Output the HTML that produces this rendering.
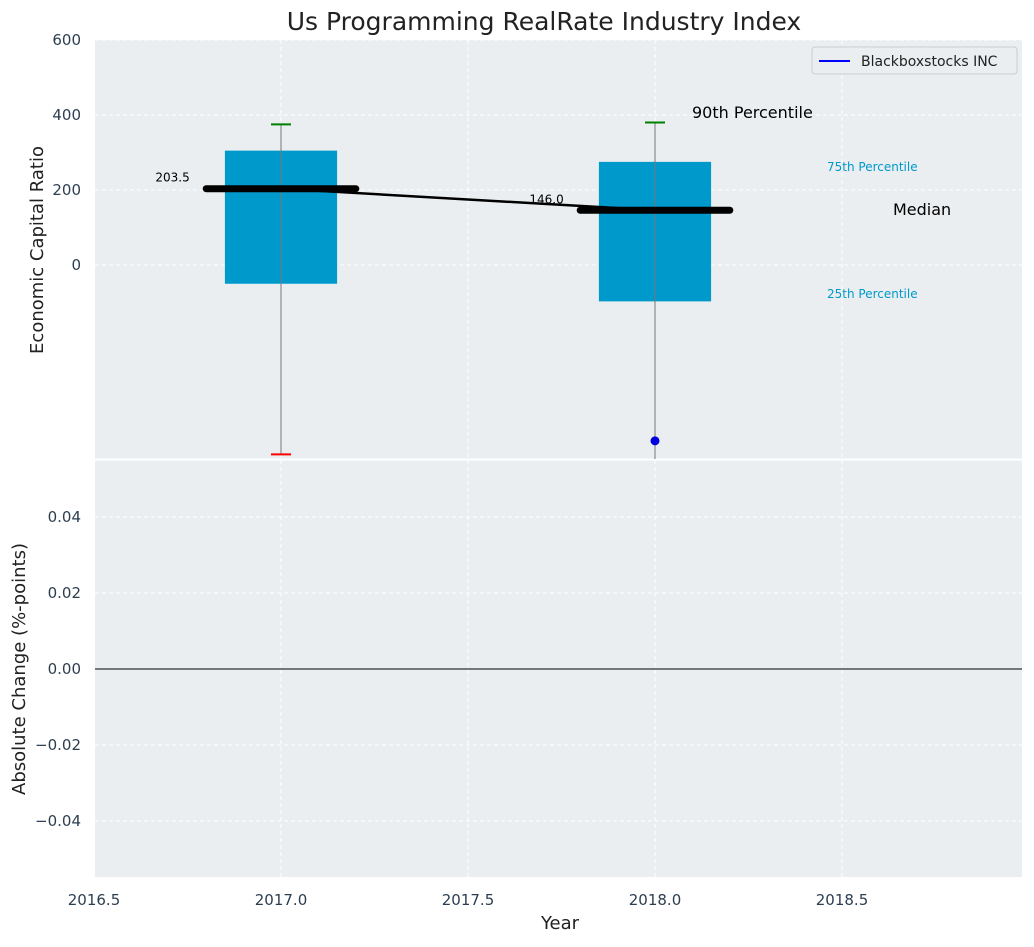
<!DOCTYPE html>
<html><head><meta charset="utf-8"><style>
body{margin:0;background:#fff;font-family:"Liberation Sans","DejaVu Sans",sans-serif}
svg text{font-family:"DejaVu Sans","Liberation Sans",sans-serif}
</style></head><body>
<svg id="c" width="1034" height="942"></svg>
<script>
const years=[2017,2018];
const q1=[-50,-97];
const q3=[305,275];
const whiskHi=[375,380];
const whiskLo=[-505,-540];
const medians=[203.5,146.0];
const outlierYears=[2018];
const outlierVals=[-469];
const topTicks=[0,200,400,600];
const botTicks=[-0.04,-0.02,0,0.02,0.04];
const xTicks=[2016.5,2017,2017.5,2018,2018.5];

const NS="http://www.w3.org/2000/svg";
const svg=document.getElementById('c');
function el(t,a,p){const e=document.createElementNS(NS,t);for(const k in a)e.setAttribute(k,a[k]);(p||svg).appendChild(e);return e;}
const L=95,R=1022;
const X=v=>94+(v-2016.5)*374;
const YT=v=>265-v*0.375;
const YB=v=>669-v*3800;

let e=el('rect',{x:L,y:40,width:R-L,height:419,fill:'#eaeef0'});

e=el('rect',{x:L,y:460,width:R-L,height:417,fill:'#eaeef0'});


xTicks.forEach(v=>{
 [[40,459],[460,877]].forEach(r=>{const g=el('line',{x1:X(v),x2:X(v),y1:r[0],y2:r[1],stroke:'#fff','stroke-dasharray':'4,3','stroke-width':1});
 });
 const t=el('text',{x:X(v),y:905,'text-anchor':'middle','font-size':15,fill:'#2c3e50'});t.textContent=v.toFixed(1);
 
});
topTicks.forEach(v=>{
 const g=el('line',{x1:L,x2:R,y1:YT(v),y2:YT(v),stroke:'#fff','stroke-dasharray':'4,3'});
 
 const t=el('text',{x:81,y:YT(v)+5,'text-anchor':'end','font-size':15,fill:'#2c3e50'});t.textContent=v;
 
});
botTicks.forEach(v=>{
 const g=el('line',{x1:L,x2:R,y1:YB(v),y2:YB(v),stroke:'#fff','stroke-dasharray':'4,3'});
 
 const t=el('text',{x:81,y:YB(v)+5,'text-anchor':'end','font-size':15,fill:'#2c3e50'});t.textContent=(v<0?'\u2212':'')+Math.abs(v).toFixed(2);
 
});
e=el('line',{x1:L,x2:R,y1:YB(0),y2:YB(0),stroke:'#000','stroke-width':1});

e=el('line',{x1:L,x2:R,y1:459.5,y2:459.5,stroke:'#fff','stroke-width':2});

const clipTop=el('clipPath',{id:'ct'});el('rect',{x:L,y:40,width:R-L,height:419},clipTop);
const gTop=el('g',{'clip-path':'url(#ct)'});
years.forEach((y,i)=>{
 const b=el('rect',{x:X(y-0.15),y:YT(q3[i]),width:0.3*374,height:YT(q1[i])-YT(q3[i]),fill:'#0099cc'},gTop);
 
 const w=el('line',{x1:X(y),x2:X(y),y1:YT(whiskHi[i]),y2:YT(whiskLo[i]),stroke:'#777','stroke-width':1},gTop);
 
 const c=el('line',{x1:X(y)-10,x2:X(y)+10,y1:YT(whiskHi[i]),y2:YT(whiskHi[i]),stroke:'green','stroke-width':2},gTop);
 
 const c2=el('line',{x1:X(y)-10,x2:X(y)+10,y1:YT(whiskLo[i]),y2:YT(whiskLo[i]),stroke:'red','stroke-width':2},gTop);
 
});
const ml=el('line',{x1:X(years[0]),y1:YT(medians[0]),x2:X(years[1]),y2:YT(medians[1]),stroke:'#000','stroke-width':2.5},gTop);

years.forEach((y,i)=>{
 const m=el('line',{x1:X(y-0.2),x2:X(y+0.2),y1:YT(medians[i]),y2:YT(medians[i]),stroke:'#000','stroke-width':7,'stroke-linecap':'round'},gTop);
 
 const t=el('text',{x:X(y-0.29),y:YT(medians[i])-7,'text-anchor':'middle','font-size':12,fill:'#000'});t.textContent=medians[i].toFixed(1);
 
});
outlierYears.forEach((y,i)=>{
 const p=el('circle',{cx:X(y),cy:YT(outlierVals[i]),r:4.5,fill:'#0000dd'});
 
});

[['90th Percentile',692,118,16,'#000','annotation-90th'],['75th Percentile',827,171,12,'#0099cc','annotation-75th'],['Median',893,215,16,'#000','annotation-median'],['25th Percentile',827,298,12,'#0099cc','annotation-25th']].forEach(a=>{
 const t=el('text',{x:a[1],y:a[2],'font-size':a[3],fill:a[4]});t.textContent=a[0];
 
});

const lg=el('g',{});
el('rect',{x:812,y:47,width:205,height:27,rx:3,fill:'#eaeef0',stroke:'#ccc'},lg);
el('line',{x1:819,x2:850,y1:61,y2:61,stroke:'#0000ff','stroke-width':2},lg);
e=el('text',{x:861,y:66,'font-size':14,fill:'#222'},lg);e.textContent='Blackboxstocks INC';


e=el('text',{x:544,y:30,'text-anchor':'middle','font-size':25,fill:'#222'});e.textContent='Us Programming RealRate Industry Index';

e=el('text',{x:560,y:929,'text-anchor':'middle','font-size':18,fill:'#222'});e.textContent='Year';

e=el('text',{x:0,y:0,'text-anchor':'middle','font-size':18,fill:'#222',transform:'translate(43,250) rotate(-90)'});e.textContent='Economic Capital Ratio';

e=el('text',{x:0,y:0,'text-anchor':'middle','font-size':18,fill:'#222',transform:'translate(25,669) rotate(-90)'});e.textContent='Absolute Change (%-points)';

</script>
</body></html>
